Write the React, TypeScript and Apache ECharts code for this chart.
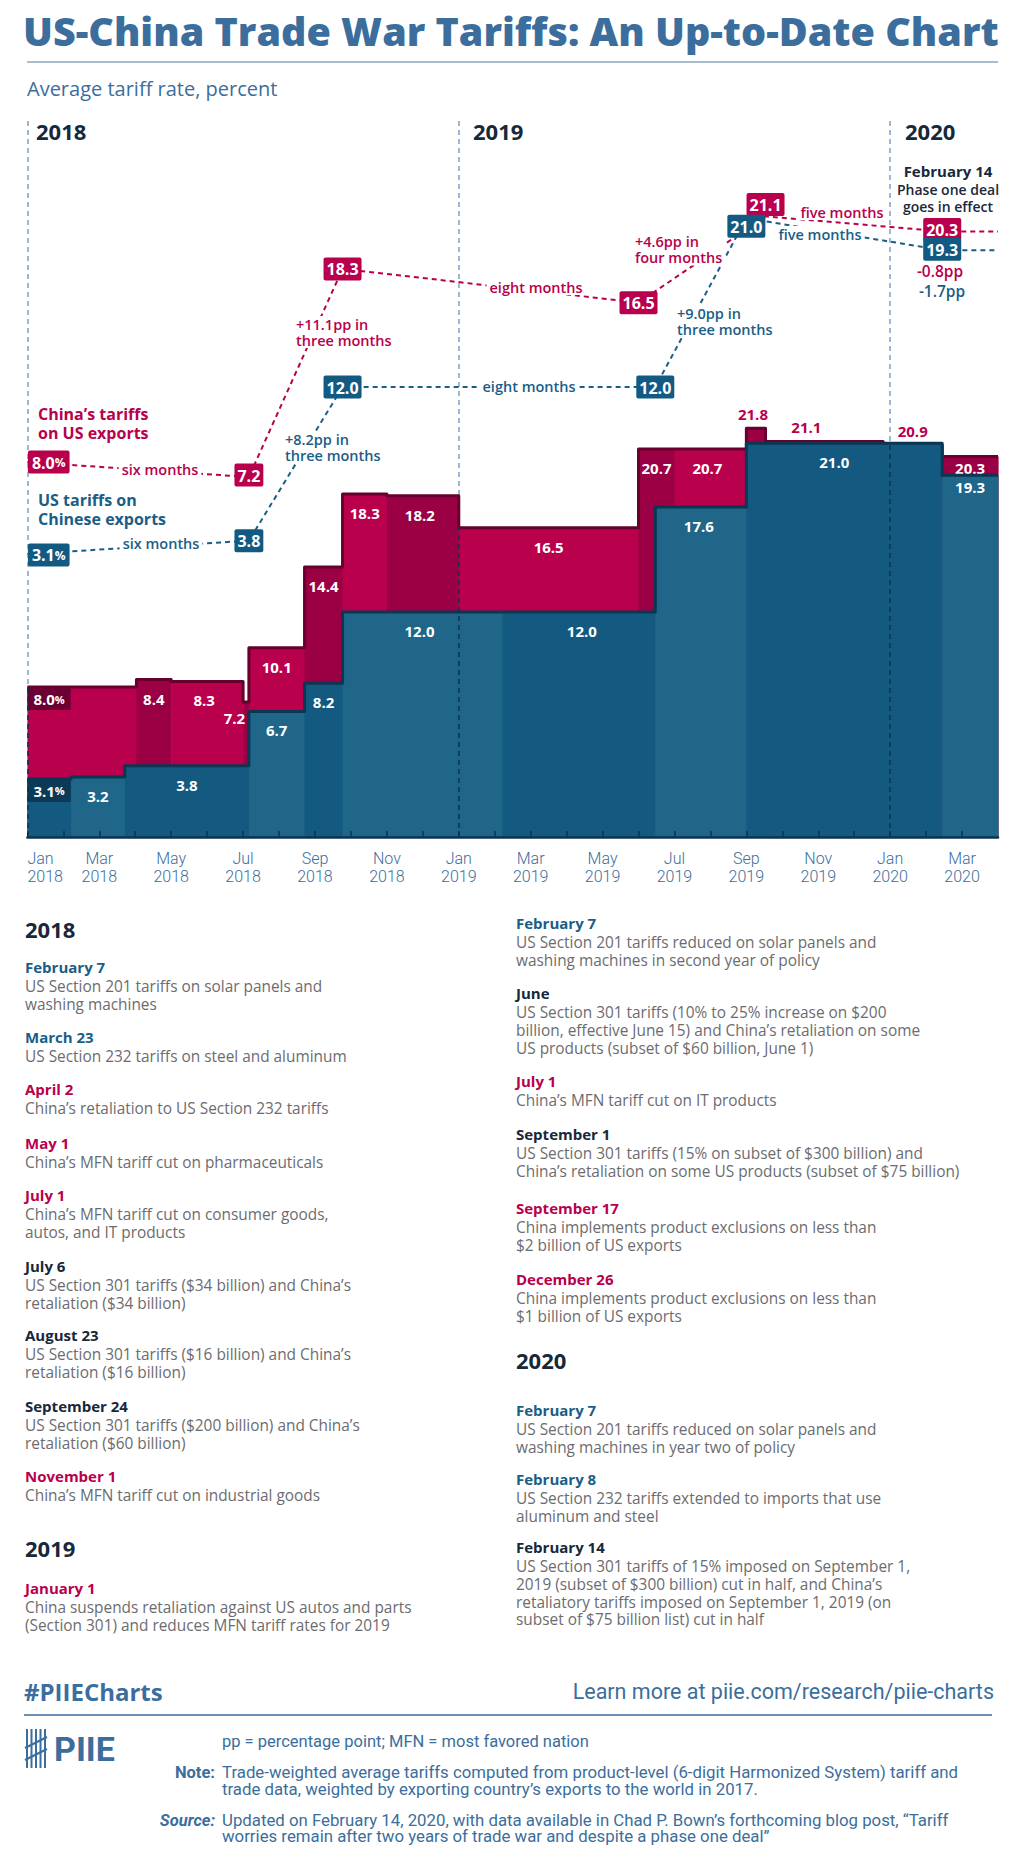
import React, { useEffect, useRef } from 'react';
import * as echarts from 'echarts';

// ---------------- DATA ----------------
const periodStartYear = 2018;
const periodEnd = '2020-04-01';

// China's tariffs on US exports (step periods)
const chinaStarts = ['2018-01-01', '2018-04-02', '2018-05-01', '2018-07-01', '2018-07-06', '2018-08-23', '2018-09-24', '2018-11-01', '2019-01-01', '2019-06-01', '2019-07-01', '2019-09-01', '2019-09-17', '2019-12-26', '2020-02-14'];
const chinaRates = [8.0, 8.4, 8.3, 7.2, 10.1, 14.4, 18.3, 18.2, 16.5, 20.7, 20.7, 21.8, 21.1, 20.9, 20.3];

// US tariffs on Chinese exports (step periods)
const usStarts = ['2018-01-01', '2018-02-07', '2018-03-23', '2018-07-06', '2018-08-23', '2018-09-24', '2019-02-07', '2019-06-15', '2019-09-01', '2020-02-14'];
const usRates = [3.1, 3.2, 3.8, 6.7, 8.2, 12.0, 12.0, 17.6, 21.0, 19.3];

// Key points shown in the upper "pointer" panel
const chinaKeyDates = ['2018-01-01', '2018-07-06', '2018-09-24', '2019-06-01', '2019-09-17', '2020-02-14', periodEnd];
const chinaKeyRates = [8.0, 7.2, 18.3, 16.5, 21.1, 20.3, 20.3];
const usKeyDates = ['2018-01-01', '2018-07-06', '2018-09-24', '2019-06-15', '2019-09-01', '2020-02-14', periodEnd];
const usKeyRates = [3.1, 3.8, 12.0, 12.0, 21.0, 19.3, 19.3];

const chinaChangeNotes = ['six months', '+11.1pp in\nthree months', 'eight months', '+4.6pp in\nfour months', 'five months', '-0.8pp'];
const usChangeNotes = ['six months', '+8.2pp in\nthree months', 'eight months', '+9.0pp in\nthree months', 'five months', '-1.7pp'];

const monthNames = ['Jan', 'Feb', 'Mar', 'Apr', 'May', 'Jun', 'Jul', 'Aug', 'Sep', 'Oct', 'Nov', 'Dec'];
const yearMarkers = ['2018-01-01', '2019-01-01', '2020-01-01'];
const yearMarkerLabels = ['2018', '2019', '2020'];

const leftEvents = [
  { kind: 'year', title: '2018', lines: [] as string[] },
  { kind: 'us', title: 'February 7', lines: ['US Section 201 tariffs on solar panels and', 'washing machines'] },
  { kind: 'us', title: 'March 23', lines: ['US Section 232 tariffs on steel and aluminum'] },
  { kind: 'china', title: 'April 2', lines: ['China’s retaliation to US Section 232 tariffs'] },
  { kind: 'china', title: 'May 1', lines: ['China’s MFN tariff cut on pharmaceuticals'] },
  { kind: 'china', title: 'July 1', lines: ['China’s MFN tariff cut on consumer goods,', 'autos, and IT products'] },
  { kind: 'both', title: 'July 6', lines: ['US Section 301 tariffs ($34 billion) and China’s', 'retaliation ($34 billion)'] },
  { kind: 'both', title: 'August 23', lines: ['US Section 301 tariffs ($16 billion) and China’s', 'retaliation ($16 billion)'] },
  { kind: 'both', title: 'September 24', lines: ['US Section 301 tariffs ($200 billion) and China’s', 'retaliation ($60 billion)'] },
  { kind: 'china', title: 'November 1', lines: ['China’s MFN tariff cut on industrial goods'] },
  { kind: 'year', title: '2019', lines: [] as string[] },
  { kind: 'china', title: 'January 1', lines: ['China suspends retaliation against US autos and parts', '(Section 301) and reduces MFN tariff rates for 2019'] },
];
const rightEvents = [
  { kind: 'us', title: 'February 7', lines: ['US Section 201 tariffs reduced on solar panels and', 'washing machines in second year of policy'] },
  { kind: 'both', title: 'June', lines: ['US Section 301 tariffs (10% to 25% increase on $200', 'billion, effective June 15) and China’s retaliation on some', 'US products (subset of $60 billion, June 1)'] },
  { kind: 'china', title: 'July 1', lines: ['China’s MFN tariff cut on IT products'] },
  { kind: 'both', title: 'September 1', lines: ['US Section 301 tariffs (15% on subset of $300 billion) and', 'China’s retaliation on some US products (subset of $75 billion)'] },
  { kind: 'china', title: 'September 17', lines: ['China implements product exclusions on less than', '$2 billion of US exports'] },
  { kind: 'china', title: 'December 26', lines: ['China implements product exclusions on less than', '$1 billion of US exports'] },
  { kind: 'year', title: '2020', lines: [] as string[] },
  { kind: 'us', title: 'February 7', lines: ['US Section 201 tariffs reduced on solar panels and', 'washing machines in year two of policy'] },
  { kind: 'us', title: 'February 8', lines: ['US Section 232 tariffs extended to imports that use', 'aluminum and steel'] },
  { kind: 'both', title: 'February 14', lines: ['US Section 301 tariffs of 15% imposed on September 1,', '2019 (subset of $300 billion) cut in half, and China’s', 'retaliatory tariffs imposed on September 1, 2019 (on', 'subset of $75 billion list) cut in half'] },
];

// ---------------- STYLE / LAYOUT ----------------
const W = 1024;
const H = 1866;
const PLOT_L = 27.4;
const PLOT_R = 998;
const BASE_Y = 837;
const TOP_Y = 117;
const UPPER_BASE_Y = 612;
const PX_PER_PT = 18.75;

const BODY = '"Open Sans", "Noto Sans", sans-serif';
const COND = 'Roboto, "Noto Sans", sans-serif';

const C = {
  redLight: '#B8004C',
  redDark: '#9A0043',
  redLine: '#66002D',
  redBox: '#6C0032',
  red: '#B8004C',
  blueLight: '#1F6689',
  blueDark: '#135980',
  blueLine: '#0B3753',
  blueBox: '#0B3A56',
  blue: '#1A5E87',
  boxBlue: '#135A82',
  ink: '#17283A',
  gray: '#6B6C6F',
  steel: '#3B6E9C',
};

const chinaShade = [0, 1, 0, 1, 0, 1, 0, 1, 0, 1, 0, 1, 0, 1, 1];
const chinaLabelMode = ['box', 'in', 'in', 'left', 'in', 'in', 'in', 'in', 'in', 'in', 'in', 'above', 'above', 'above', 'tight'];
const usShade = [1, 0, 1, 0, 1, 0, 1, 0, 1, 0];
const usLabelMode = ['box', 'in', 'in', 'in', 'in', 'in', 'in', 'in', 'in', 'tight'];
const chinaLabelDx = [0, 0, -3, 0, 0, 0, 0, -3, 0, 0, -3, -3, -18, 0, 0];
const usLabelDx = [0, 0, 0, 0, 0, -3, 3, -2, -10, 0];

const chinaBoxOffsets = [[0, 0], [0, -2], [0, 0], [0, 0], [0, -12], [0, -2], [0, 0]];
const usBoxOffsets = [[0, 1], [0, 0], [0, 0], [0, 0], [0, 8], [0, -1], [0, 0]];

const chinaNotePos: [number, number, string][] = [[160, 469, 'center'], [293, 332, 'left'], [536, 287, 'center'], [632, 249.5, 'left'], [842, 212, 'center'], [940, 271, 'center']];
const usNotePos: [number, number, string][] = [[161, 543, 'center'], [282, 447.5, 'left'], [529, 386, 'center'], [674, 321, 'left'], [820, 234, 'center'], [942, 291, 'center']];
const yearLabelX = [36, 473, 905];

const leftY = [929, 967, 1037, 1089, 1143, 1195, 1266, 1335, 1406, 1476, 1548, 1588];
const rightY = [923, 993, 1081, 1134, 1208, 1279, 1360, 1410, 1479, 1547];

// ---------------- HELPERS ----------------
function toMonth(d: string): number {
  const [y, m, day] = d.split('-').map(Number);
  const dim = new Date(Date.UTC(y, m, 0)).getUTCDate();
  return (y - periodStartYear) * 12 + (m - 1) + (day - 1) / dim;
}
function rateAt(starts: string[], rates: number[], m: number): number {
  let v = rates[0];
  starts.forEach((s, i) => {
    if (toMonth(s) <= m + 1e-9) v = rates[i];
  });
  return v;
}
function segments(starts: string[], rates: number[]) {
  return starts.map((s, i) => [toMonth(s), toMonth(i + 1 < starts.length ? starts[i + 1] : periodEnd), rates[i], i]);
}
function outline(starts: string[], rates: number[]) {
  const pts = starts.map((s, i) => [toMonth(s), rates[i]]);
  pts.push([toMonth(periodEnd), rates[rates.length - 1]]);
  return pts;
}
function fnt(weight: string | number, size: number, family = BODY, italic = false) {
  return `${italic ? 'italic ' : ''}${weight} ${size}px ${family}`;
}
type TO = { color: string; size: number; weight?: string | number; family?: string; italic?: boolean; align?: string; valign?: string; lh?: number; bg?: string; pad?: number[]; z?: number };
function txt(x: number, y: number, str: string, o: TO) {
  const align = o.align || 'left';
  const valign = o.valign || 'middle';
  const st: any = {
    text: str,
    fill: o.color,
    font: fnt(o.weight ?? 'normal', o.size, o.family ?? BODY, o.italic),
    align,
    textAlign: align,
    verticalAlign: valign,
    textVerticalAlign: valign,
  };
  if (o.lh) st.lineHeight = o.lh;
  if (o.bg) {
    st.backgroundColor = o.bg;
    st.padding = o.pad || [1, 3];
  }
  return { type: 'text', x, y, z: o.z ?? 1, silent: true, style: st };
}

function stepRenderer(shade: number[], modes: string[], dxs: number[], light: string, dark: string, boxBg: string) {
  return (_params: any, api: any) => {
    const x0 = api.value(0);
    const x1 = api.value(1);
    const v = api.value(2);
    const i = api.value(3);
    const p0 = api.coord([x0, v]);
    const p1 = api.coord([x1, 0]);
    const children: any[] = [
      {
        type: 'rect',
        shape: { x: p0[0], y: p0[1], width: p1[0] - p0[0] + 0.6, height: p1[1] - p0[1] },
        style: { fill: shade[i] ? dark : light },
      },
    ];
    const label = Number(v).toFixed(1);
    const mode = modes[i];
    const cx = (p0[0] + p1[0]) / 2 + (dxs[i] || 0);
    const base = { fill: '#fff', font: fnt('bold', 15), align: 'center', verticalAlign: 'middle' };
    if (mode === 'in') {
      children.push({ type: 'text', x: cx, y: p0[1] + 19, style: { ...base, text: label } });
    } else if (mode === 'tight') {
      children.push({ type: 'text', x: cx, y: p0[1] + 12, style: { ...base, text: label } });
    } else if (mode === 'above') {
      children.push({ type: 'text', x: cx, y: p0[1] - 14, style: { ...base, fill: C.red, text: label } });
    } else if (mode === 'left') {
      children.push({ type: 'text', x: p0[0] + 2, y: p0[1] + 16, style: { ...base, align: 'right', text: label } });
    } else if (mode === 'box') {
      children.push({
        type: 'text',
        x: p0[0],
        y: p0[1],
        style: {
          text: `{v|${label}}{p|%}`,
          align: 'left',
          verticalAlign: 'top',
          backgroundColor: boxBg,
          padding: [3, 6, 2, 6],
          rich: {
            v: { fill: '#fff', font: fnt('bold', 15), lineHeight: 18 },
            p: { fill: '#fff', font: fnt('bold', 11), lineHeight: 18 },
          },
        },
      });
    }
    return { type: 'group', children };
  };
}

function keyScatter(dates: string[], rates: number[], offsets: number[][], bg: string, z: number) {
  const n = dates.length;
  return {
    type: 'scatter',
    xAxisIndex: 1,
    yAxisIndex: 1,
    z,
    silent: true,
    symbol: 'rect',
    symbolSize: 1,
    itemStyle: { color: 'rgba(0,0,0,0)', opacity: 1 },
    label: {
      show: true,
      position: 'inside',
      opacity: 1,
      formatter: (p: any) => (p.dataIndex === 0 ? `{v|${p.value[1].toFixed(1)}}{p|%}` : p.value[1].toFixed(1)),
      backgroundColor: bg,
      color: '#fff',
      fontFamily: BODY,
      fontWeight: 'bold',
      fontSize: 16,
      lineHeight: 18,
      padding: [3, 3, 2, 3],
      borderRadius: 2,
      rich: {
        v: { color: '#fff', fontFamily: BODY, fontWeight: 'bold', fontSize: 16, lineHeight: 18 },
        p: { color: '#fff', fontFamily: BODY, fontWeight: 'bold', fontSize: 12, lineHeight: 18 },
      },
    },
    data: dates.map((d, i) => {
      const item: any = { value: [toMonth(d), rates[i]] };
      if (i === 0) item.label = { position: 'right', distance: 0, offset: offsets[i], padding: [3, 4, 2, 4] };
      else if (i === n - 1) item.label = { show: false };
      else item.label = { offset: offsets[i] };
      return item;
    }),
  };
}

function eventGraphics(events: typeof leftEvents, ys: number[], x: number) {
  const kindColor: Record<string, string> = { us: C.blue, china: C.red, both: C.ink };
  const out: any[] = [];
  events.forEach((e, k) => {
    const y = ys[k];
    if (e.kind === 'year') {
      out.push(txt(x, y, e.title, { color: C.ink, size: 22, weight: 'bold' }));
    } else {
      out.push(txt(x, y, e.title, { color: kindColor[e.kind], size: 15, weight: 'bold' }));
      const lh = 17.8;
      out.push(txt(x, y + 19.5 + ((e.lines.length - 1) * lh) / 2, e.lines.join('\n'), { color: C.gray, size: 15.4, weight: 500, lh }));
    }
  });
  return out;
}

function buildOption() {
  const mainMax = (BASE_Y - TOP_Y) / PX_PER_PT;
  const upperMax = (UPPER_BASE_Y - TOP_Y) / PX_PER_PT;
  const endM = toMonth(periodEnd);

  const graphics: any[] = [];
  // header
  graphics.push(txt(23, 31, 'US-China Trade War Tariffs: An Up-to-Date Chart', { color: C.steel, size: 39.5, weight: 800 }));
  graphics.push({ type: 'line', silent: true, shape: { x1: 27, y1: 62, x2: 998, y2: 62 }, style: { stroke: '#8DA7C0', lineWidth: 1.5 } });
  graphics.push(txt(27, 88, 'Average tariff rate, percent', { color: C.steel, size: 20 }));
  yearMarkerLabels.forEach((t, i) => graphics.push(txt(yearLabelX[i], 131, t, { color: C.ink, size: 22, weight: 'bold' })));

  // series captions
  graphics.push(txt(38, 423, 'China’s tariffs\non US exports', { color: C.red, size: 16, weight: 'bold', lh: 19 }));
  graphics.push(txt(38, 509, 'US tariffs on\nChinese exports', { color: C.blue, size: 16, weight: 'bold', lh: 19 }));

  // phase one note
  graphics.push(txt(948, 171, 'February 14', { color: C.ink, size: 15, weight: 'bold', align: 'center' }));
  graphics.push(txt(948, 198, 'Phase one deal\ngoes in effect', { color: C.ink, size: 14, weight: 600, align: 'center', lh: 16.5 }));

  // change notes
  chinaChangeNotes.forEach((t, i) => {
    const [x, y, a] = chinaNotePos[i];
    const last = i === chinaChangeNotes.length - 1;
    graphics.push(txt(x, y, t, { color: C.red, size: last ? 15.5 : 14.5, weight: 600, align: a, lh: 16, bg: last ? undefined : '#fff', pad: [0, 3], z: 7 }));
  });
  usChangeNotes.forEach((t, i) => {
    const [x, y, a] = usNotePos[i];
    const last = i === usChangeNotes.length - 1;
    graphics.push(txt(x, y, t, { color: C.blue, size: last ? 15.5 : 14.5, weight: 600, align: a, lh: 16, bg: last ? undefined : '#fff', pad: [0, 3], z: 7 }));
  });

  // event lists
  graphics.push(...eventGraphics(leftEvents, leftY, 25));
  graphics.push(...eventGraphics(rightEvents, rightY, 516));

  // footer
  graphics.push(txt(24, 1691, '#PIIECharts', { color: C.steel, size: 24, weight: 'bold' }));
  graphics.push(txt(994, 1691, 'Learn more at piie.com/research/piie-charts', { color: C.steel, size: 21.5, family: COND, align: 'right' }));
  graphics.push({ type: 'line', silent: true, shape: { x1: 24, y1: 1715, x2: 992, y2: 1715 }, style: { stroke: C.steel, lineWidth: 1.5 } });
  // logo
  [27, 31.5, 36, 40.5, 45].forEach((x) =>
    graphics.push({ type: 'line', silent: true, shape: { x1: x, y1: 1729, x2: x, y2: 1768 }, style: { stroke: C.steel, lineWidth: 2 } })
  );
  graphics.push({ type: 'line', silent: true, shape: { x1: 25, y1: 1748, x2: 47, y2: 1737 }, style: { stroke: C.steel, lineWidth: 2 } });
  graphics.push({ type: 'line', silent: true, shape: { x1: 25, y1: 1760, x2: 47, y2: 1749 }, style: { stroke: C.steel, lineWidth: 2 } });
  graphics.push(txt(54, 1749, 'PIIE', { color: C.steel, size: 34, weight: 'bold', family: COND }));

  graphics.push(txt(222, 1741, 'pp = percentage point; MFN = most favored nation', { color: C.steel, size: 16.5, family: COND }));
  graphics.push(txt(215, 1772, 'Note:', { color: C.steel, size: 16.5, weight: 'bold', family: COND, align: 'right' }));
  graphics.push(txt(222, 1780.5, 'Trade-weighted average tariffs computed from product-level (6-digit Harmonized System) tariff and\ntrade data, weighted by exporting country’s exports to the world in 2017.', { color: C.steel, size: 16.8, family: COND, lh: 17.5 }));
  graphics.push(txt(215, 1820, 'Source:', { color: C.steel, size: 16.5, weight: 'bold', family: COND, align: 'right', italic: true }));
  graphics.push(txt(222, 1828, 'Updated on February 14, 2020, with data available in Chad P. Bown’s forthcoming blog post, “Tariff\nworries remain after two years of trade war and despite a phase one deal”', { color: C.steel, size: 16.8, family: COND, lh: 16.5 }));

  const lightMarks = yearMarkers.map((d) => ({ xAxis: toMonth(d) }));
  const darkMarks = yearMarkers.map((d) => {
    const m = toMonth(d);
    const top = Math.max(rateAt(chinaStarts, chinaRates, m), rateAt(usStarts, usRates, m));
    return [{ coord: [m, 0] }, { coord: [m, top] }];
  });

  return {
    animation: false,
    backgroundColor: '#fff',
    grid: [
      { left: PLOT_L, top: TOP_Y, width: PLOT_R - PLOT_L, height: BASE_Y - TOP_Y, containLabel: false, outerBoundsMode: 'none' },
      { left: PLOT_L, top: TOP_Y, width: PLOT_R - PLOT_L, height: UPPER_BASE_Y - TOP_Y, containLabel: false, outerBoundsMode: 'none' },
    ],
    xAxis: [
      {
        type: 'value',
        gridIndex: 0,
        min: 0,
        max: endM,
        interval: 1,
        z: 10,
        axisLine: { show: true, onZero: false, lineStyle: { color: '#0C3350', width: 2.5 } },
        axisTick: { show: true, inside: true, length: 6, lineStyle: { color: '#0C3350', width: 1.5 } },
        splitLine: { show: false },
        axisLabel: {
          show: true,
          margin: 12,
          color: C.steel,
          fontFamily: COND,
          fontWeight: 300,
          fontSize: 16,
          lineHeight: 18,
          showMinLabel: true,
          showMaxLabel: false,
          alignMinLabel: 'left',
          formatter: (v: number) => {
            const i = Math.round(v);
            if (i % 2 !== 0) return '';
            return `${monthNames[i % 12]}\n${periodStartYear + Math.floor(i / 12)}`;
          },
        },
      },
      { type: 'value', gridIndex: 1, min: 0, max: endM, show: false },
    ],
    yAxis: [
      { type: 'value', gridIndex: 0, min: 0, max: mainMax, show: false, splitLine: { show: false } },
      { type: 'value', gridIndex: 1, min: 0, max: upperMax, show: false, splitLine: { show: false } },
    ],
    graphic: { elements: graphics },
    series: [
      {
        type: 'custom',
        name: 'China step',
        xAxisIndex: 0,
        yAxisIndex: 0,
        z: 2,
        silent: true,
        clip: false,
        encode: { x: [0, 1], y: 2 },
        renderItem: stepRenderer(chinaShade, chinaLabelMode, chinaLabelDx, C.redLight, C.redDark, C.redBox),
        data: segments(chinaStarts, chinaRates),
      },
      {
        type: 'line',
        name: 'China outline',
        xAxisIndex: 0,
        yAxisIndex: 0,
        z: 3,
        silent: true,
        step: 'end',
        symbol: 'none',
        lineStyle: { color: C.redLine, width: 3, join: 'round' },
        data: outline(chinaStarts, chinaRates),
        markLine: {
          silent: true,
          z: 1,
          symbol: ['none', 'none'],
          label: { show: false },
          lineStyle: { color: '#7EA3C3', type: [5, 4], width: 1.5 },
          data: lightMarks,
        },
      },
      {
        type: 'custom',
        name: 'US step',
        xAxisIndex: 0,
        yAxisIndex: 0,
        z: 4,
        silent: true,
        clip: false,
        encode: { x: [0, 1], y: 2 },
        renderItem: stepRenderer(usShade, usLabelMode, usLabelDx, C.blueLight, C.blueDark, C.blueBox),
        data: segments(usStarts, usRates),
      },
      {
        type: 'line',
        name: 'US outline',
        xAxisIndex: 0,
        yAxisIndex: 0,
        z: 5,
        silent: true,
        step: 'end',
        symbol: 'none',
        lineStyle: { color: C.blueLine, width: 3, join: 'round' },
        data: outline(usStarts, usRates),
        markLine: {
          silent: true,
          z: 6,
          symbol: ['none', 'none'],
          label: { show: false },
          lineStyle: { color: '#0C3350', type: [5, 4], width: 1.5 },
          data: darkMarks,
        },
      },
      {
        type: 'line',
        name: 'China key',
        xAxisIndex: 1,
        yAxisIndex: 1,
        z: 6,
        silent: true,
        symbol: 'none',
        lineStyle: { color: C.red, width: 2, type: [5, 4] },
        data: chinaKeyDates.map((d, i) => [toMonth(d), chinaKeyRates[i]]),
      },
      {
        type: 'line',
        name: 'US key',
        xAxisIndex: 1,
        yAxisIndex: 1,
        z: 6,
        silent: true,
        symbol: 'none',
        lineStyle: { color: C.blue, width: 2, type: [5, 4] },
        data: usKeyDates.map((d, i) => [toMonth(d), usKeyRates[i]]),
      },
      keyScatter(chinaKeyDates, chinaKeyRates, chinaBoxOffsets, C.red, 8),
      keyScatter(usKeyDates, usKeyRates, usBoxOffsets, C.boxBlue, 8),
    ],
  };
}

export default function App() {
  const ref = useRef<HTMLDivElement>(null);
  useEffect(() => {
    if (!ref.current) return;
    const chart = echarts.init(ref.current, null, { renderer: 'svg' });
    chart.setOption(buildOption() as any);
    return () => chart.dispose();
  }, []);
  return <div ref={ref} style={{ position: 'absolute', left: 0, top: 0, width: W, height: H, background: '#fff' }} />;
}
